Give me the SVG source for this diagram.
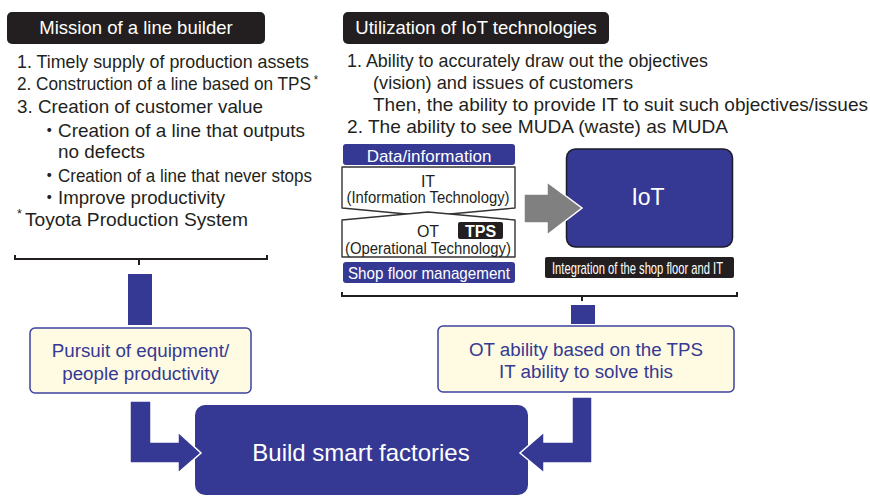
<svg xmlns="http://www.w3.org/2000/svg" width="870" height="497" viewBox="0 0 870 497">
  <style>
    text { font-family: "Liberation Sans", Arial, "Noto Sans CJK JP", sans-serif; }
    .head { fill: #231f20; }
    .headtxt { fill: #ffffff; font-size: 18.5px; }
    .body { fill: #231f20; font-size: 18.5px; }
    .star { font-size: 12px; }
    .small { fill: #231f20; font-size: 16px; text-anchor: middle; }
    .navy { fill: #353993; }
    .wt { fill: #ffffff; }
    .note { fill: #fffbe2; stroke: #3d42a0; stroke-width: 1.5; }
    .notetxt { fill: #353993; font-size: 18.8px; text-anchor: middle; }
    .brace { fill: none; stroke: #231f20; stroke-width: 2; }
    .flow { fill: #353993; stroke: #ffffff; stroke-width: 1.5; stroke-linejoin: miter; }
    .panel { fill: #ffffff; stroke: #333333; stroke-width: 1.4; stroke-linejoin: round; }
  </style>

  <!-- Left heading and list -->
  <g id="mission">
    <rect class="head" x="7" y="12" width="258" height="32" rx="5"/>
    <text class="headtxt" x="136" y="34" text-anchor="middle">Mission of a line builder</text>
    <text class="body" x="17" y="68" textLength="292" lengthAdjust="spacingAndGlyphs">1. Timely supply of production assets</text>
    <text class="body" x="17" y="90" textLength="301" lengthAdjust="spacingAndGlyphs">2. Construction of a line based on TPS<tspan class="star" dx="3" dy="-6">*</tspan></text>
    <text class="body" x="17" y="113" textLength="246" lengthAdjust="spacingAndGlyphs">3. Creation of customer value</text>
    <text class="body" x="40" y="137">・</text>
    <text class="body" x="58" y="137" textLength="247" lengthAdjust="spacingAndGlyphs">Creation of a line that outputs</text>
    <text class="body" x="58" y="158" textLength="87" lengthAdjust="spacingAndGlyphs">no defects</text>
    <text class="body" x="40" y="182">・</text>
    <text class="body" x="58" y="182" textLength="254" lengthAdjust="spacingAndGlyphs">Creation of a line that never stops</text>
    <text class="body" x="40" y="204">・</text>
    <text class="body" x="58" y="204" textLength="167" lengthAdjust="spacingAndGlyphs">Improve productivity</text>
    <text class="body" x="17" y="226" textLength="231" lengthAdjust="spacingAndGlyphs"><tspan class="star" dy="-8">*</tspan><tspan dx="3" dy="8">Toyota Production System</tspan></text>
  </g>

  <!-- Right heading and list -->
  <g id="iot-use">
    <rect class="head" x="343" y="12" width="266" height="32" rx="5"/>
    <text class="headtxt" x="476" y="34" text-anchor="middle">Utilization of IoT technologies</text>
    <text class="body" x="347" y="67" textLength="361" lengthAdjust="spacingAndGlyphs">1. Ability to accurately draw out the objectives</text>
    <text class="body" x="373" y="89" textLength="260" lengthAdjust="spacingAndGlyphs">(vision) and issues of customers</text>
    <text class="body" x="373" y="111" textLength="495" lengthAdjust="spacingAndGlyphs">Then, the ability to provide IT to suit such objectives/issues</text>
    <text class="body" x="347" y="133" textLength="381" lengthAdjust="spacingAndGlyphs">2. The ability to see MUDA (waste) as MUDA</text>
  </g>

  <!-- IT / OT layers -->
  <g id="layers">
    <rect class="navy" x="343" y="144" width="172" height="21" rx="3"/>
    <text class="wt" x="429" y="162" style="font-size:17px" text-anchor="middle">Data/information</text>
    <path class="panel" d="M342,167 H515 V208 L428,216 L342,208 Z"/>
    <text class="small" x="428" y="187">IT</text>
    <text class="small" x="428" y="203" textLength="163" lengthAdjust="spacingAndGlyphs">(Information Technology)</text>
    <path class="panel" d="M342,220 L428,212 L515,220 V257 H342 Z"/>
    <text class="small" x="428" y="237">OT</text>
    <rect class="head" x="458" y="222" width="45" height="17" rx="2"/>
    <text class="wt" x="480.5" y="237" style="font-size:16px;font-weight:bold" text-anchor="middle">TPS</text>
    <text class="small" x="428" y="254" textLength="166" lengthAdjust="spacingAndGlyphs">(Operational Technology)</text>
    <rect class="navy" x="343" y="262" width="172" height="21" rx="3"/>
    <text class="wt" x="348" y="279" style="font-size:17px" textLength="162" lengthAdjust="spacingAndGlyphs">Shop floor management</text>
  </g>

  <!-- IoT block -->
  <g id="iot">
    <rect x="566.5" y="149" width="166" height="98" rx="9" fill="#353993" stroke="#1c1c2a" stroke-width="1.5"/>
    <text class="wt" x="648" y="205" style="font-size:23px" text-anchor="middle">IoT</text>
    <rect class="head" x="545" y="257" width="189" height="21" rx="2"/>
    <text class="wt" x="552" y="274" style="font-size:17px" textLength="171" lengthAdjust="spacingAndGlyphs">Integration of the shop floor and IT</text>
  </g>

  <!-- Summary boxes -->
  <g id="pursuit">
    <rect class="note" x="30" y="328" width="221" height="65" rx="5"/>
    <text class="notetxt" x="140.5" y="357">Pursuit of equipment/</text>
    <text class="notetxt" x="140.5" y="380">people productivity</text>
  </g>
  <g id="ot-ability">
    <rect class="note" x="438" y="326" width="296" height="66" rx="5"/>
    <text class="notetxt" x="586" y="356">OT ability based on the TPS</text>
    <text class="notetxt" x="586" y="378">IT ability to solve this</text>
  </g>
  <g id="smart-factory">
    <rect x="195" y="405" width="333" height="90" rx="10" fill="#353993"/>
    <text class="wt" x="361" y="461" style="font-size:24px" text-anchor="middle">Build smart factories</text>
  </g>

  <!-- Connectors: braces, bars and arrows -->
  <g id="connectors">
    <path class="brace" d="M15,255 V259 H267 V255 M139,259 V265"/>
    <path class="brace" d="M342,292 V296 H737 V292 M582,296 V301"/>
    <rect class="navy" x="128" y="274" width="24" height="51"/>
    <rect class="navy" x="571" y="305" width="24" height="19"/>
    <path d="M524,194 H547 V182 L582,208 L547,235 V223 H524 Z" fill="#808080" stroke="#ffffff" stroke-width="1.5"/>
    <path class="flow" d="M130,401 H151 V442 H178 V432 L201,453 L178,473 V463 H130 Z"/>
    <path class="flow" d="M592,397 V463 H544 V473 L520,453 L544,432 V442 H572 V397 Z"/>
  </g>
</svg>
